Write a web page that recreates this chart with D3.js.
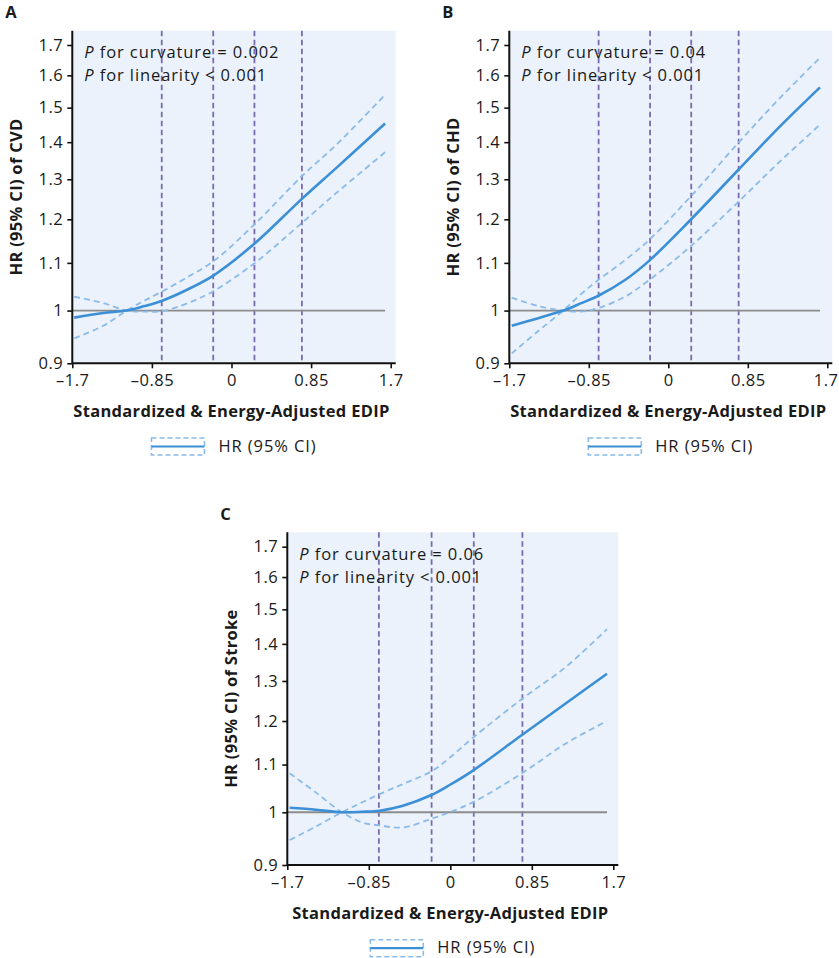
<!DOCTYPE html>
<html>
<head>
<meta charset="utf-8">
<script src="https://cdn.jsdelivr.net/npm/d3@7"></script>
<style>
  html, body { margin: 0; padding: 0; background: #ffffff; }
  svg { display: block; }
  text { font-family: "Open Sans", Lato, sans-serif; fill: #1a1a1a; }
  .reg { font-size: 16.5px; letter-spacing: 0.9px; }
  .tck { font-size: 16.5px; letter-spacing: 0.5px; }
  .bld { font-size: 16.5px; font-weight: bold; letter-spacing: 0.3px; }
</style>
</head>
<body>
<svg id="chart" width="839" height="958"></svg>
<script>
// ---------- data ----------
const xTicks = [-1.7, -0.85, 0, 0.85, 1.7];
const xTickLabels = ["\u20131.7", "\u20130.85", "0", "0.85", "1.7"];
const yTicks = [0.9, 1, 1.1, 1.2, 1.3, 1.4, 1.5, 1.6, 1.7];
const yTickLabels = ["0.9", "1", "1.1", "1.2", "1.3", "1.4", "1.5", "1.6", "1.7"];
const knots = [-0.745, -0.195, 0.245, 0.752];
const xTitle = "Standardized & Energy-Adjusted EDIP";
const legendLabel = "HR (95% CI)";
const panelLetters = ["A", "B", "C"];
const yTitles = ["HR (95% CI) of CVD", "HR (95% CI) of CHD", "HR (95% CI) of Stroke"];
const pCurvature = ["0.002", "0.04", "0.06"];
const pLinearity = ["< 0.001", "< 0.001", "< 0.001"];

// Panel A (CVD)
const edipA = [-1.68, -1.37, -1.12, -0.93, -0.74, -0.48, -0.19, 0.25, 0.76, 1.12, 1.64];
const hrA   = [0.986, 0.995, 1.0, 1.009, 1.020, 1.042, 1.073, 1.144, 1.252, 1.330, 1.453];
const ciUpA = [0.946, 0.970, 1.0, 1.020, 1.039, 1.068, 1.104, 1.189, 1.310, 1.393, 1.539];
const ciLoA = [1.028, 1.015, 1.0, 0.998, 0.999, 1.014, 1.040, 1.100, 1.193, 1.265, 1.372];

// Panel B (CHD)
const edipB = [-1.674, -1.39, -1.123, -0.93, -0.748, -0.463, -0.203, 0.239, 0.742, 1.176, 1.622];
const hrB   = [0.970, 0.985, 1.0, 1.015, 1.030, 1.063, 1.105, 1.199, 1.323, 1.440, 1.562];
const ciUpB = [0.918, 0.960, 1.0, 1.034, 1.063, 1.106, 1.152, 1.256, 1.396, 1.524, 1.657];
const ciLoB = [1.026, 1.009, 1.0, 0.998, 1.005, 1.028, 1.063, 1.137, 1.241, 1.343, 1.450];

// Panel C (Stroke)
const edipC = [-1.675, -1.4, -1.13, -0.92, -0.737, -0.494, -0.198, -0.007, 0.244, 0.747, 1.21, 1.634];
const hrC   = [1.009, 1.005, 1.0, 1.001, 1.003, 1.013, 1.035, 1.056, 1.088, 1.167, 1.244, 1.319];
const ciUpC = [0.946, 0.972, 1.0, 1.020, 1.037, 1.058, 1.085, 1.115, 1.162, 1.254, 1.338, 1.442];
const ciLoC = [1.081, 1.040, 1.0, 0.980, 0.974, 0.970, 0.987, 1.000, 1.021, 1.081, 1.148, 1.200];

// ---------- layout ----------
const layouts = [
  { left: 72.3, top: 30.7, span: 318.4, bottom: 363.3 },
  { left: 509.3, top: 30.7, span: 318.0, bottom: 363.3 },
  { left: 287.3, top: 532.3, span: 326.0, bottom: 865.0 }
];
const series = [
  { x: edipA, hr: hrA, up: ciUpA, lo: ciLoA },
  { x: edipB, hr: hrB, up: ciUpB, lo: ciLoB },
  { x: edipC, hr: hrC, up: ciUpC, lo: ciLoC }
];

const COL_BG = "#ebf2fb";
const COL_HR = "#3b8fd6";
const COL_CI = "#8bbbe8";
const COL_KNOT = "#7a6bb0";
const COL_REF = "#8c8c8c";
const W = 839;

const svg = d3.select("#chart");

layouts.forEach((L, i) => {
  const S = series[i];
  const x = d3.scaleLinear().domain([-1.7, 1.7]).range([L.left, L.left + L.span]);
  const y = d3.scaleLog().domain([0.9, 1.7]).range([L.bottom, L.bottom - 318.3]);
  const right = L.left + L.span + 5;
  const g = svg.append("g");

  g.append("rect").attr("x", L.left).attr("y", L.top)
    .attr("width", right - L.left).attr("height", L.bottom - L.top)
    .attr("fill", COL_BG);

  g.selectAll(".knot").data(knots).enter().append("line")
    .attr("x1", d => x(d)).attr("x2", d => x(d))
    .attr("y1", L.top).attr("y2", L.bottom)
    .attr("stroke", COL_KNOT).attr("stroke-width", 1.8)
    .attr("stroke-dasharray", "5.5,3.5");

  g.append("line")
    .attr("x1", x(-1.7)).attr("x2", x(S.x[S.x.length - 1]))
    .attr("y1", y(1)).attr("y2", y(1))
    .attr("stroke", COL_REF).attr("stroke-width", 1.8);

  const line = d3.line().x(d => x(d[0])).y(d => y(d[1]))
    .curve(d3.curveCatmullRom.alpha(0.5));

  [S.up, S.lo].forEach(arr => {
    g.append("path").datum(S.x.map((v, k) => [v, arr[k]]))
      .attr("d", line).attr("fill", "none")
      .attr("stroke", COL_CI).attr("stroke-width", 1.8)
      .attr("stroke-dasharray", "6,4");
  });
  g.append("path").datum(S.x.map((v, k) => [v, S.hr[k]]))
    .attr("d", line).attr("fill", "none")
    .attr("stroke", COL_HR).attr("stroke-width", 2.6);

  const xAxis = d3.axisBottom(x).tickValues(xTicks)
    .tickFormat((d, k) => xTickLabels[k]).tickSize(5).tickPadding(6);
  const gx = g.append("g").attr("transform", `translate(0,${L.bottom})`).call(xAxis);
  gx.select(".domain").attr("d", `M${L.left},0H${right}`);
  const yAxis = d3.axisLeft(y).tickValues(yTicks)
    .tickFormat((d, k) => yTickLabels[k]).tickSize(5).tickPadding(4);
  const gy = g.append("g").attr("transform", `translate(${L.left},0)`).call(yAxis);
  gy.select(".domain").attr("d", `M0,${L.bottom}V${L.top}`);
  [gx, gy].forEach(a => {
    a.attr("font-family", null).attr("font-size", null);
    a.select(".domain").attr("stroke", "#111").attr("stroke-width", 2);
    a.selectAll(".tick line").attr("stroke", "#111").attr("stroke-width", 1.6);
    a.selectAll(".tick text").attr("class", "tck").attr("fill", "#1a1a1a");
  });
  // keep x tick labels inside the picture
  gx.selectAll(".tick text").each(function () {
    const t = d3.select(this);
    const parentX = x(t.datum());
    const bb = this.getBBox();
    const absRight = parentX + bb.x + bb.width;
    if (absRight > W - 1) t.attr("dx", (W - 1 - absRight) + "px");
  });

  const cx = L.left + L.span / 2;
  g.append("text").attr("class", "bld").attr("x", cx).attr("y", L.bottom + 54)
    .attr("text-anchor", "middle").text(xTitle);
  g.append("text").attr("class", "bld")
    .attr("transform", `translate(${L.left - 50},${(L.top + L.bottom) / 2}) rotate(-90)`)
    .attr("text-anchor", "middle").text(yTitles[i]);

  g.append("text").attr("x", L.left - 67).attr("y", L.top - 12.4)
    .style("font-size", "16.5px").style("font-weight", "bold").text(panelLetters[i]);

  const t1 = g.append("text").attr("class", "reg").attr("x", L.left + 12).attr("y", L.top + 27.6);
  t1.append("tspan").style("font-style", "italic").text("P");
  t1.append("tspan").text(" for curvature = " + pCurvature[i]);
  const t2 = g.append("text").attr("class", "reg").attr("x", L.left + 12).attr("y", L.top + 50.3);
  t2.append("tspan").style("font-style", "italic").text("P");
  t2.append("tspan").text(" for linearity " + pLinearity[i]);

  const ly = L.bottom + 74.7;
  const lx = cx - 80;
  const lg = g.append("g");
  lg.append("rect").attr("x", lx).attr("y", ly).attr("width", 53).attr("height", 17)
    .attr("fill", "none").attr("stroke", COL_CI).attr("stroke-width", 1.6)
    .attr("stroke-dasharray", "5,3");
  lg.append("line").attr("x1", lx).attr("x2", lx + 53)
    .attr("y1", ly + 8.5).attr("y2", ly + 8.5)
    .attr("stroke", COL_HR).attr("stroke-width", 2.2);
  lg.append("text").attr("class", "reg").attr("x", cx - 13).attr("y", ly + 13.7)
    .text(legendLabel);
});
</script>
</body>
</html>
